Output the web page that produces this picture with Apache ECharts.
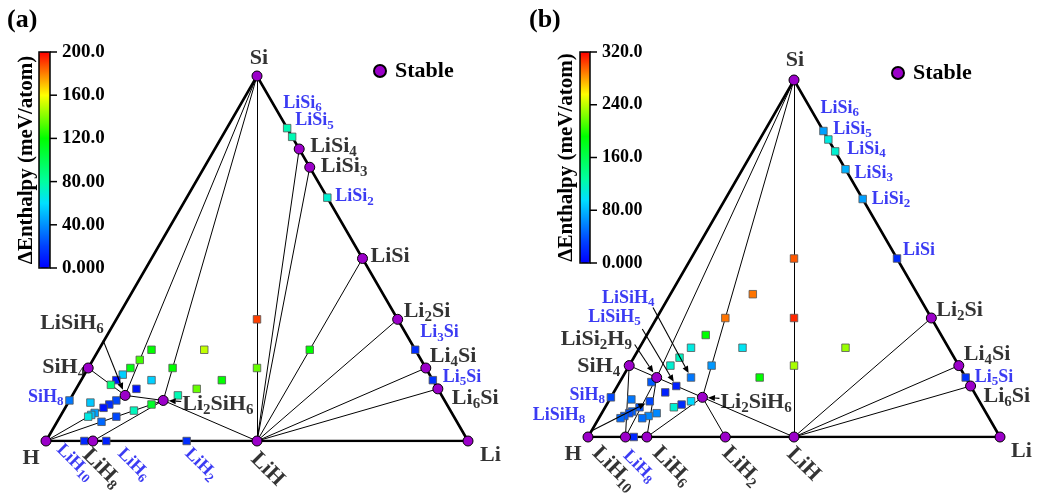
<!DOCTYPE html>
<html>
<head>
<meta charset="utf-8">
<script src="https://cdn.jsdelivr.net/npm/echarts@6.0.0/dist/echarts.min.js"></script>
<style>
  html, body { margin: 0; padding: 0; background: #fff; }
  #main { width: 1037px; height: 498px; }
</style>
</head>
<body>
<div id="main"></div>
<script>
const FONT = '"Liberation Serif", "Times New Roman", serif';
const BLUE = '#0a0af0';
const PURPLE = '#9b00c9';
const R3 = Math.sqrt(3) / 2;

// colour scale of the enthalpy bar, low -> high
const rainbow = ['#0000ff', '#0040ff', '#0090ff', '#00e0ff', '#00ffa0', '#00ff50',
                 '#00ff00', '#80ff00', '#ffff00', '#ff8000', '#ff0000'];

// ---------- (a) ----------
// stable phases: [formula, Li, Si, H]
const stableA = [
  ['Si', 0, 1, 0], ['LiSi4', 1, 4, 0], ['LiSi3', 1, 3, 0], ['LiSi', 1, 1, 0],
  ['Li2Si', 2, 1, 0], ['Li4Si', 4, 1, 0], ['Li6Si', 6, 1, 0], ['Li', 1, 0, 0],
  ['LiH', 1, 0, 1], ['LiH8', 1, 0, 8], ['H', 0, 0, 1], ['SiH4', 0, 1, 4],
  ['LiSiH6', 1, 1, 6], ['Li2SiH6', 2, 1, 6]
];
// metastable phases: [formula, Li, Si, H, dH (meV/atom)]
const unstableA = [
  ['LiSi6', 1, 6, 0, 76], ['LiSi5', 1, 5, 0, 76], ['LiSi2', 1, 2, 0, 70],
  ['Li3Si', 3, 1, 0, 14], ['Li5Si', 5, 1, 0, 16], ['SiH8', 0, 1, 8, 34],
  ['LiH10', 1, 0, 10, 12], ['LiH6', 1, 0, 6, 10], ['LiH2', 1, 0, 2, 14],
  ['LiSiH', 1, 1, 1, 190], ['Li2SiH2', 2, 1, 2, 136], ['Li2SiH', 2, 1, 1, 120],
  ['LiSi2H5', 1, 2, 5, 120], ['LiSi2H6', 1, 2, 6, 130], ['LiSi2H7', 1, 2, 7, 116],
  ['LiSi2H8', 1, 2, 8, 56], ['LiSi2H9', 1, 2, 9, 6], ['LiSi2H10', 1, 2, 10, 90],
  ['LiSi2H16', 1, 2, 16, 54],
  ['LiSiH2', 1, 1, 2, 150], ['LiSiH3', 1, 1, 3, 120], ['LiSiH4', 1, 1, 4, 56],
  ['LiSiH5', 1, 1, 5, 6], ['LiSiH7', 1, 1, 7, 22], ['LiSiH8', 1, 1, 8, 14],
  ['LiSiH9', 1, 1, 9, 6], ['LiSiH11', 1, 1, 11, 44], ['LiSiH12', 1, 1, 12, 52],
  ['LiSiH13', 1, 1, 13, 66],
  ['Li2SiH3', 2, 1, 3, 120], ['Li2SiH4', 2, 1, 4, 136], ['Li2SiH5', 2, 1, 5, 76],
  ['Li2SiH7', 2, 1, 7, 110], ['Li2SiH9', 2, 1, 9, 74], ['Li2SiH12', 2, 1, 12, 22],
  ['Li2SiH16', 2, 1, 16, 30]
];
const tiesA = [
  ['Si', 'LiSiH6'], ['Si', 'Li2SiH6'], ['Si', 'LiH'], ['LiSi4', 'LiH'], ['LiSi3', 'LiH'],
  ['LiSi', 'LiH'], ['Li2Si', 'LiH'], ['Li4Si', 'LiH'], ['Li6Si', 'LiH'], ['Li2SiH6', 'LiH'],
  ['H', 'LiSiH6'], ['H', 'Li2SiH6'], ['LiH8', 'Li2SiH6'], ['SiH4', 'LiSiH6'], ['LiSiH6', 'Li2SiH6']
];
const ticksA = ['0.000', '40.00', '80.00', '120.0', '160.0', '200.0'];
const maxA = 200;

// ---------- (b) ----------
const stableB = [
  ['Si', 0, 1, 0], ['Li2Si', 2, 1, 0], ['Li4Si', 4, 1, 0], ['Li6Si', 6, 1, 0],
  ['Li', 1, 0, 0], ['LiH', 1, 0, 1], ['LiH2', 1, 0, 2], ['LiH6', 1, 0, 6],
  ['LiH10', 1, 0, 10], ['H', 0, 0, 1], ['SiH4', 0, 1, 4], ['LiSi2H9', 1, 2, 9],
  ['Li2SiH6', 2, 1, 6]
];
const unstableB = [
  ['LiSi6', 1, 6, 0, 70], ['LiSi5', 1, 5, 0, 106], ['LiSi4', 1, 4, 0, 112],
  ['LiSi3', 1, 3, 0, 77], ['LiSi2', 1, 2, 0, 70], ['LiSi', 1, 1, 0, 22],
  ['Li5Si', 5, 1, 0, 26], ['SiH8', 0, 1, 8, 35], ['LiH8', 1, 0, 8, 19],
  ['LiSiH4', 1, 1, 4, 54], ['LiSiH5', 1, 1, 5, 16], ['LiSiH8', 1, 1, 8, 35],
  ['LiSi2H', 1, 2, 1, 298], ['LiSiH', 1, 1, 1, 310], ['Li2SiH2', 2, 1, 2, 234],
  ['Li2SiH', 2, 1, 1, 230],
  ['LiSi2H2', 1, 2, 2, 291], ['LiSi2H3', 1, 2, 3, 291], ['LiSi2H4', 1, 2, 4, 192],
  ['LiSi2H5', 1, 2, 5, 106], ['LiSi2H6', 1, 2, 6, 118], ['LiSi2H7', 1, 2, 7, 112],
  ['LiSi2H10', 1, 2, 10, 42], ['LiSi2H16', 1, 2, 16, 54],
  ['LiSiH2', 1, 1, 2, 100], ['LiSiH3', 1, 1, 3, 67], ['LiSiH6', 1, 1, 6, 16],
  ['LiSiH10', 1, 1, 10, 40], ['LiSiH12', 1, 1, 12, 45], ['LiSiH13', 1, 1, 13, 38],
  ['LiSiH15', 1, 1, 15, 42], ['LiSiH17', 1, 1, 17, 48],
  ['Li2SiH3', 2, 1, 3, 192], ['Li2SiH7', 2, 1, 7, 93], ['Li2SiH8', 2, 1, 8, 22],
  ['Li2SiH9', 2, 1, 9, 112], ['Li2SiH12', 2, 1, 12, 61], ['Li2SiH14', 2, 1, 14, 61],
  ['Li2SiH16', 2, 1, 16, 51]
];
const tiesB = [
  ['Si', 'LiSi2H9'], ['Si', 'Li2SiH6'], ['Si', 'LiH'], ['Li2Si', 'LiH'], ['Li4Si', 'LiH'],
  ['Li6Si', 'LiH'], ['Li2SiH6', 'LiH'], ['SiH4', 'LiSi2H9'], ['LiSi2H9', 'Li2SiH6'],
  ['SiH4', 'LiH10'], ['LiSi2H9', 'LiH10'], ['LiSi2H9', 'LiH6'], ['LiH6', 'Li2SiH6'],
  ['LiH2', 'Li2SiH6']
];
const ticksB = ['0.000', '80.00', '160.0', '240.0', '320.0'];
const maxB = 320;

// label placement: [formula, dx, dy, k=black / b=blue, align, rotate]
const labelsA = [
  ['Si', 2, -18, 'k', 'center', 0], ['LiSi6', -4, -25, 'b', 'left', 0],
  ['LiSi5', 3, -16, 'b', 'left', 0], ['LiSi4', 11, -3, 'k', 'left', 0],
  ['LiSi3', 11, -1, 'k', 'left', 0], ['LiSi2', 8, -1, 'b', 'left', 0],
  ['LiSi', 8, -2, 'k', 'left', 0], ['Li2Si', 6, -8, 'k', 'left', 0],
  ['Li3Si', 5, -17, 'b', 'left', 0], ['Li4Si', 4, -12, 'k', 'left', 0],
  ['Li5Si', 10, -3, 'b', 'left', 0], ['Li6Si', 14, 9, 'k', 'left', 0],
  ['Li', 12, 14, 'k', 'left', 0], ['LiH', -3, 15, 'k', 'left', -45],
  ['H', -15, 17, 'k', 'center', 0], ['LiH10', -25, 6, 'b', 'left', -45],
  ['LiH8', -7, 11, 'k', 'left', -45], ['LiH6', 14, 10, 'b', 'left', -45],
  ['LiH2', 1, 10, 'b', 'left', -45], ['SiH8', -6, -3, 'b', 'right', 0],
  ['SiH4', -3, -1, 'k', 'right', 0], ['LiSiH6', -85, -72, 'k', 'left', 0],
  ['Li2SiH6', 19, 4, 'k', 'left', 0]
];
const labelsB = [
  ['Si', 1, -20, 'k', 'center', 0], ['LiSi6', -3, -23, 'b', 'left', 0],
  ['LiSi5', 5, -10, 'b', 'left', 0], ['LiSi4', 12, -2, 'b', 'left', 0],
  ['LiSi3', 9, 4, 'b', 'left', 0], ['LiSi2', 9, 0, 'b', 'left', 0],
  ['LiSi', 6, -8, 'b', 'left', 0], ['Li2Si', 5, -8, 'k', 'left', 0],
  ['Li4Si', 5, -11, 'k', 'left', 0], ['Li5Si', 9, 0, 'b', 'left', 0],
  ['Li6Si', 13, 10, 'k', 'left', 0], ['Li', 11, 14, 'k', 'left', 0],
  ['LiH', -4, 14, 'k', 'left', -45], ['H', -15, 17, 'k', 'center', 0],
  ['LiH10', -30, 13, 'k', 'left', -45], ['LiH8', -8, 16, 'b', 'left', -45],
  ['LiH6', 9, 13, 'k', 'left', -45], ['LiH2', 0, 13, 'k', 'left', -45],
  ['SiH4', -9, 1, 'k', 'right', 0], ['SiH8', -6, -2, 'b', 'right', 0],
  ['LiSiH8', -117, 14, 'b', 'left', 0], ['LiSi2H9', -96, -38, 'k', 'left', 0],
  ['LiSiH5', -88, -69, 'b', 'left', 0], ['LiSiH4', -89, -79, 'b', 'left', 0],
  ['Li2SiH6', 18, 5, 'k', 'left', 0]
];
// annotation arrows: [target, tail dx, tail dy, gap before target]
const arrowsA = [['LiSiH6', -22, -55, 6], ['Li2SiH6', 18, 1, 5.5]];
const arrowsB = [
  ['LiSiH4', -38, -70, 5], ['LiSiH5', -34, -57, 5], ['LiSi2H9', -22, -33, 6],
  ['LiSiH8', -59, 30, 5], ['Li2SiH6', 17, 1, 5.5]
];

const panels = [
  { tag: '(a)', stable: stableA, unstable: unstableA, ties: tiesA, ticks: ticksA, max: maxA,
    grid: { left: 46, top: 76, width: 422, height: 365 }, bar: [39, 52, 11, 216],
    barTitleX: 27, tickFont: 19, tagX: 7, legend: [373, 60], labels: labelsA, arrows: arrowsA },
  { tag: '(b)', stable: stableB, unstable: unstableB, ties: tiesB, ticks: ticksB, max: maxB,
    grid: { left: 588, top: 80, width: 412, height: 357 }, bar: [580, 52, 10, 211],
    barTitleX: 567, tickFont: 18, tagX: 529, legend: [891, 62], labels: labelsB, arrows: arrowsB }
];

function tern(li, si, h) {
  const n = li + si + h;
  return [(li + si / 2) / n, (si / n) * R3];
}
function richName(name, k) {
  return name.replace(/(\D+)|(\d+)/g, (m, t, d) => t ? '{' + k + '|' + t + '}' : '{' + k + 's|' + d + '}');
}
// label offsets get rotated with the label, so undo that for rotated ones
function labelOffset(dx, dy, deg) {
  const a = deg * Math.PI / 180, c = Math.cos(a), s = Math.sin(a);
  return [dx * c - dy * s, dx * s + dy * c];
}
const RICH = {
  k: { fontFamily: FONT, fontWeight: 'bold', fontSize: 22, lineHeight: 27, color: '#000' },
  ks: { fontFamily: FONT, fontWeight: 'bold', fontSize: 15, lineHeight: 15, color: '#000', verticalAlign: 'bottom' },
  b: { fontFamily: FONT, fontWeight: 'bold', fontSize: 18, lineHeight: 22, color: BLUE },
  bs: { fontFamily: FONT, fontWeight: 'bold', fontSize: 13, lineHeight: 12, color: BLUE, verticalAlign: 'bottom' }
};

const series = [];
panels.forEach((p, i) => {
  p.pos = {};
  p.stable.forEach(s => { p.pos[s[0]] = tern(s[1], s[2], s[3]); });
  p.unstable.forEach(s => { p.pos[s[0]] = tern(s[1], s[2], s[3]); });
  const pos = p.pos;
  series.push({
    type: 'lines', coordinateSystem: 'cartesian2d', xAxisIndex: i, yAxisIndex: i,
    polyline: true, silent: true, z: 2,
    lineStyle: { color: '#000', width: 2.6, opacity: 1 },
    data: [{ coords: [pos.H, pos.Li, pos.Si, pos.H] }]
  });
  series.push({
    type: 'lines', coordinateSystem: 'cartesian2d', xAxisIndex: i, yAxisIndex: i,
    silent: true, z: 2,
    lineStyle: { color: '#000', width: 1, opacity: 1 },
    data: p.ties.map(t => ({ coords: [pos[t[0]], pos[t[1]]] }))
  });
  series.push({
    type: 'scatter', xAxisIndex: i, yAxisIndex: i, symbol: 'rect', symbolSize: 7.5, z: 3,
    silent: true,
    itemStyle: { borderColor: '#555', borderWidth: 0.8, opacity: 1 },
    data: p.unstable.map(s => tern(s[1], s[2], s[3]).concat([s[4]]))
  });
  series.push({
    type: 'scatter', name: 'Stable', xAxisIndex: i, yAxisIndex: i, symbol: 'circle',
    symbolSize: 10, z: 4, silent: true,
    itemStyle: { color: PURPLE, borderColor: '#000', borderWidth: 1, opacity: 1 },
    data: p.stable.map(s => tern(s[1], s[2], s[3]))
  });
  series.push({
    type: 'scatter', xAxisIndex: i, yAxisIndex: i, symbolSize: 0, z: 5, silent: true,
    itemStyle: { color: 'rgba(0,0,0,0)' },
    label: { show: true, position: 'inside', verticalAlign: 'middle', rich: RICH },
    data: p.labels.map(l => ({
      value: pos[l[0]],
      label: { formatter: richName(l[0], l[3]), offset: labelOffset(l[1], l[2], l[5]),
        align: l[4], rotate: l[5] }
    }))
  });
});

const chart = echarts.init(document.getElementById('main'));
chart.setOption({
  animation: false,
  backgroundColor: '#fff',
  grid: panels.map(p => p.grid),
  xAxis: panels.map((p, i) => ({ type: 'value', gridIndex: i, min: 0, max: 1, show: false })),
  yAxis: panels.map((p, i) => ({ type: 'value', gridIndex: i, min: 0, max: R3, show: false })),
  visualMap: panels.map((p, i) => ({
    type: 'continuous', min: 0, max: p.max, dimension: 2, seriesIndex: i * 5 + 2,
    inRange: { color: rainbow }, show: true, calculable: false, hoverLink: false,
    left: p.bar[0], top: p.bar[1], itemWidth: p.bar[2], itemHeight: p.bar[3],
    padding: 0, text: null
  })),
  legend: panels.map(p => ({
    data: ['Stable'], left: p.legend[0], top: p.legend[1], padding: 0,
    icon: 'circle', itemWidth: 20, itemHeight: 12, selectedMode: false,
    textStyle: { fontFamily: FONT, fontWeight: 'bold', fontSize: 22, color: '#000' }
  })),
  series: series
});

// colour-bar frame, ticks, titles and annotation arrows
const g = [];
panels.forEach((p, i) => {
  const [bx, by, bw, bh] = p.bar;
  g.push({ type: 'rect', z: 100, shape: { x: bx, y: by, width: bw, height: bh },
    style: { fill: null, stroke: '#000', lineWidth: 1.5 } });
  p.ticks.forEach((t, k) => {
    const y = by + bh * (1 - k / (p.ticks.length - 1));
    g.push({ type: 'line', z: 100, shape: { x1: bx + bw, y1: y, x2: bx + bw + 7, y2: y },
      style: { stroke: '#000', lineWidth: 1.5 } });
    g.push({ type: 'text', z: 100, x: bx + bw + 12, y: y,
      style: { text: t, font: 'bold ' + p.tickFont + 'px ' + FONT, fill: '#000', verticalAlign: 'middle' } });
  });
  g.push({ type: 'text', z: 100, x: p.barTitleX, y: by + bh / 2, rotation: Math.PI / 2,
    style: { text: '\u0394Enthalpy (meV/atom)', font: 'bold 21px ' + FONT, fill: '#000',
      align: 'center', verticalAlign: 'middle' } });
  g.push({ type: 'text', z: 100, x: p.tagX, y: 20,
    style: { text: p.tag, font: 'bold 26px ' + FONT, fill: '#000', verticalAlign: 'middle' } });
  p.arrows.forEach(a => {
    const t = chart.convertToPixel({ gridIndex: i }, p.pos[a[0]]);
    const tail = [t[0] + a[1], t[1] + a[2]];
    const dx = t[0] - tail[0], dy = t[1] - tail[1], L = Math.hypot(dx, dy);
    const ux = dx / L, uy = dy / L;
    const head = [t[0] - ux * a[3], t[1] - uy * a[3]];
    const base = [head[0] - ux * 7, head[1] - uy * 7];
    g.push({ type: 'line', z: 100, shape: { x1: tail[0], y1: tail[1], x2: base[0], y2: base[1] },
      style: { stroke: '#000', lineWidth: 1.1 } });
    g.push({ type: 'polygon', z: 100,
      shape: { points: [head, [base[0] - uy * 3, base[1] + ux * 3], [base[0] + uy * 3, base[1] - ux * 3]] },
      style: { fill: '#000' } });
  });
});
chart.setOption({ graphic: g });
</script>
</body>
</html>
